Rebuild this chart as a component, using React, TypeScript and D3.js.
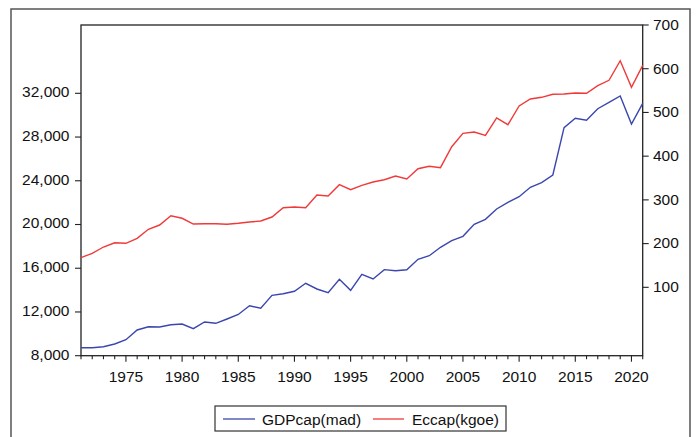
import * as d3 from 'd3'

const years = d3.range(1971, 2022)

// GDP per capita (left axis)
const gdpCap = [
  8732, 8732, 8823, 9070, 9463, 10351, 10652, 10625, 10835, 10900,
  10470, 11082, 10963, 11357, 11770, 12573, 12335, 13524, 13671, 13890,
  14622, 14101, 13762, 14988, 13982, 15445, 15015, 15870, 15775, 15866,
  16817, 17147, 17915, 18518, 18921, 20019, 20476, 21418, 22031, 22543,
  23403, 23824, 24528, 28854, 29714, 29531, 30592, 31178, 31754, 29193,
  31086,
]

// Energy consumption per capita (right axis)
const ecCap = [
  167.7, 177.8, 192.2, 202, 200.7, 212, 232.7, 242.5, 263.8, 257.9,
  244.8, 245.5, 245.5, 244.2, 246.4, 249.4, 251.7, 260.8, 282.1, 283.7,
  282.1, 311.2, 308.9, 334.7, 323.3, 333.3, 340.9, 346, 354.6, 347.8,
  371.3, 376.8, 373.6, 421.6, 452.3, 455.3, 447.7, 487.3, 472, 514.7,
  530.7, 534.6, 541.5, 542.2, 544.5, 543.8, 561.2, 573.5, 618.3, 557.5,
  607.8,
]

const leftTicks = [8000, 12000, 16000, 20000, 24000, 28000, 32000]
const rightTicks = [100, 200, 300, 400, 500, 600, 700]
const yearLabels = [1975, 1980, 1985, 1990, 1995, 2000, 2005, 2010, 2015, 2020]

const seriesNames = ['GDPcap(mad)', 'Eccap(kgoe)']
const seriesColors = ['#3b47ae', '#f03a3a']

const W = 697
const H = 437
const plot = { left: 81, right: 642.7, top: 25, bottom: 355.7 }
const font = '"Liberation Sans", Arial, sans-serif'

export default function App() {
  const x = d3.scaleLinear().domain([1971, 2021]).range([plot.left, plot.right])
  const yL = d3.scaleLinear().domain([8000, 38248]).range([plot.bottom, plot.top])
  const yR = d3.scaleLinear().domain([-56.4, 700]).range([plot.bottom, plot.top])

  const gdpLine = d3.line<number>().x((_, i) => x(years[i])).y(d => yL(d))
  const ecLine = d3.line<number>().x((_, i) => x(years[i])).y(d => yR(d))
  const fmt = d3.format(',')

  return (
    <svg
      width={W}
      height={H}
      style={{ position: 'absolute', left: 0, top: 0, background: '#fff' }}
      fontFamily={font}
      fontSize={15.5}
    >
      {/* outer frame */}
      <rect x={11} y={9} width={679} height={440} fill="none" stroke="#555" strokeWidth={1.5} />

      {/* plot box */}
      <rect
        x={plot.left}
        y={plot.top}
        width={plot.right - plot.left}
        height={plot.bottom - plot.top}
        fill="none"
        stroke="#222"
        strokeWidth={1.3}
      />

      {/* left axis */}
      {leftTicks.map(t => (
        <g key={'l' + t}>
          <line x1={plot.left - 6} x2={plot.left} y1={yL(t)} y2={yL(t)} stroke="#222" strokeWidth={1.1} />
          <text x={69.5} y={yL(t) + 3.8} textAnchor="end" fill="#111">{fmt(t)}</text>
        </g>
      ))}

      {/* right axis */}
      {rightTicks.map(t => (
        <g key={'r' + t}>
          <line x1={plot.right} x2={plot.right + 6} y1={yR(t)} y2={yR(t)} stroke="#222" strokeWidth={1.1} />
          <text x={653} y={yR(t) + 4.8} textAnchor="start" fill="#111">{t}</text>
        </g>
      ))}

      {/* bottom axis */}
      {years.map(yr => {
        const major = yr % 5 === 0
        return (
          <line
            key={'x' + yr}
            x1={x(yr)}
            x2={x(yr)}
            y1={plot.bottom}
            y2={plot.bottom + (major ? 6 : 3.5)}
            stroke="#222"
            strokeWidth={1.1}
          />
        )
      })}
      {yearLabels.map(yr => (
        <text key={'xl' + yr} x={x(yr)} y={381.5} textAnchor="middle" fill="#111">{yr}</text>
      ))}

      {/* series */}
      <path d={gdpLine(gdpCap) ?? ''} fill="none" stroke={seriesColors[0]} strokeWidth={1.4} />
      <path d={ecLine(ecCap) ?? ''} fill="none" stroke={seriesColors[1]} strokeWidth={1.4} />

      {/* legend */}
      <rect x={215} y={406} width={291} height={25} fill="#fff" stroke="#333" strokeWidth={1.2} />
      <line x1={223} x2={255} y1={419} y2={419} stroke={seriesColors[0]} strokeWidth={1.3} />
      <text x={262} y={424.5} fill="#111">{seriesNames[0]}</text>
      <line x1={373} x2={404} y1={419} y2={419} stroke={seriesColors[1]} strokeWidth={1.3} />
      <text x={412} y={424.5} fill="#111">{seriesNames[1]}</text>
    </svg>
  )
}
